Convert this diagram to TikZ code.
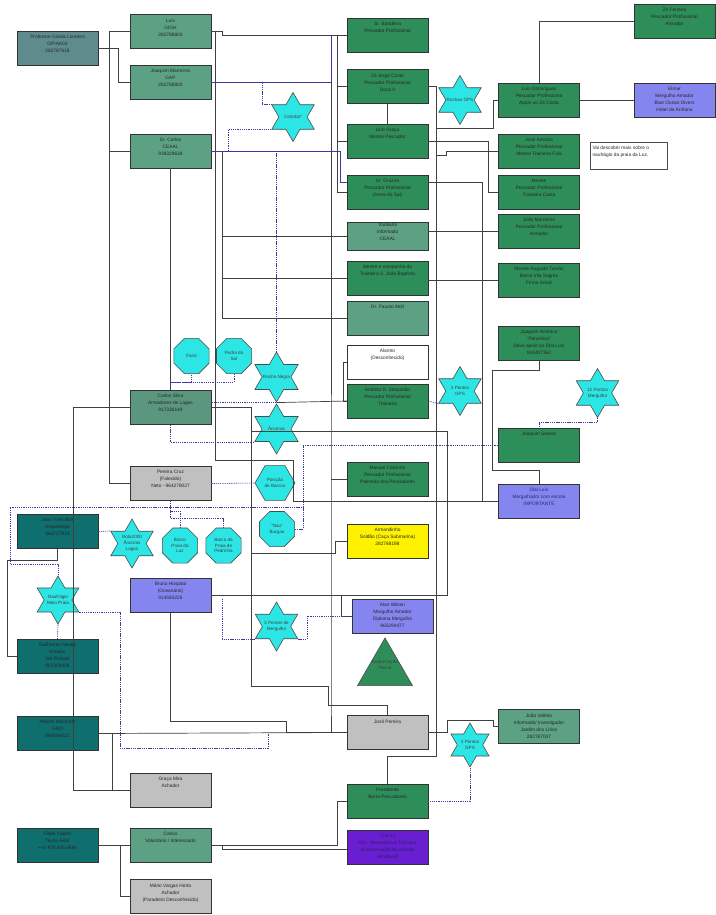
\documentclass[tikz,border=0pt]{standalone}
\usepackage{fontspec}
\setmainfont{Liberation Sans}
\usetikzlibrary{shapes.geometric}

\definecolor{seagr}{HTML}{2E8E5A}
\definecolor{mintgr}{HTML}{5CA184}
\definecolor{silvagr}{HTML}{5A977E}
\definecolor{slategr}{HTML}{5E8C8C}
\definecolor{deepteal}{HTML}{0F6E6E}
\definecolor{lightgr}{HTML}{C0C0C0}
\definecolor{lavblue}{HTML}{8585F0}
\definecolor{violetb}{HTML}{6A1ED2}
\definecolor{aquaf}{HTML}{2CE6E6}
\definecolor{navyl}{HTML}{3A3AA0}

\newcommand{\boxfont}{\fontsize{4.8}{7}\selectfont}
\newcommand{\starfont}{\fontsize{4.6}{5.8}\selectfont}
\newcommand{\tx}[1]{\parbox[c][26pt][t]{80pt}{\centering #1}}

\tikzset{
  box/.style={draw=black!80, line width=0.7pt, minimum width=81pt, minimum height=34pt, inner sep=0pt, font=\boxfont, text=black!85},
  greenbox/.style={box, fill=seagr},
  mintbox/.style={box, fill=mintgr},
  tealbox/.style={box, fill=deepteal},
  greybox/.style={box, fill=lightgr},
  bluebox/.style={box, fill=lavblue},
  starsym/.style={star, star points=6, star point ratio=1.73, draw=black!70, line width=0.6pt, fill=aquaf, minimum size=49pt, inner sep=0pt},
  octo/.style={regular polygon, regular polygon sides=8, draw=black!70, line width=0.6pt, fill=aquaf, minimum size=38pt, inner sep=0pt},
  startxt/.style={font=\starfont, align=center, text=black!75},
  link/.style={draw=black!75, line width=0.7pt},
  blueln/.style={draw=navyl, line width=0.6pt},
  hint/.style={draw=navyl, line width=0.6pt, dash pattern=on 1.3pt off 0.9pt}
}

\begin{document}
\begin{tikzpicture}[x=1pt,y=-1pt]
\fill[white] (0,0) rectangle (715,915);
\useasboundingbox (0,0) rectangle (715,915);

% left column
\node[box, fill=slategr] (prof) at (57.5,48.5) {\tx{Professor Gisela Loureiro\\GPIAA03\\282787618}};
\node[mintbox] (luis) at (170.5,31.5) {\tx{Luís\\GIGH\\282788800}};
\node[mintbox] (joaquimm) at (170.5,82.5) {\tx{Joaquim Marreiros\\GAP\\282788800}};
\node[mintbox] (srcarlos) at (170.5,151) {\tx{Sr. Carlos\\CEAAL\\938329638}};
\node[box, fill=silvagr] (carlossilva) at (170.5,407.5) {\tx{Carlos Silva\\Armadores de Lagos\\917336149}};
\node[greybox] (pereiracruz) at (170.5,483.5) {\tx{Pereira Cruz\\(Falecido)\\Neto - 964278027}};
\node[tealbox] (jeanyves) at (57.5,531.5) {\tx{Jean Yves Blot\\Arqueólogo\\964727914}};
\node[bluebox] (bruno) at (170.5,595.5) {\tx{Bruno Hospital\\(Oceanário)\\914583226}};
\node[tealbox] (guilherme) at (57.5,656.5) {\tx{Guilherme Neves\\Amador\\Ver Postais\\962329408}};
\node[tealbox] (alberto) at (57.5,733.5) {\tx{Alberto Machado\\GRO\\966594022}};
\node[greybox] (gracamira) at (170.5,790.5) {\tx{Graça Mira\\Achador}};
\node[tealbox] (filipe) at (57.5,845.5) {\tx{Filipe Castro\\Texas A\&M\\++1 979 845 6696}};
\node[mintbox] (carlosvol) at (170.5,845.5) {\tx{Carlos\\Voluntário / Interessado}};
\node[greybox] (mario) at (170.5,896.5) {\tx{Mário Vargas Horta\\Achador\\(Paradeiro Desconhecido)}};

% middle column
\node[greenbox] (bandeira) at (387.5,35) {\tx{Sr. Bandeira\\Pescador Profissional}};
\node[greenbox] (zejorge) at (387.5,86.5) {\tx{Zé Jorge Costa\\Pescador Profissional\\Doca II}};
\node[greenbox] (lino) at (387.5,141.5) {\tx{Lino Graça\\Mestre Pescador}};
\node[greenbox] (grazon) at (387.5,192) {\tx{Sr. Grazon\\Pescador Profissional\\(Arma do Sal)}};
\node[mintbox, minimum height=28pt] (toubiano) at (387.5,236.5) {\tx{Toubiano\\Informado\\CEAAL}};
\node[greenbox] (motivo) at (387.5,278) {\tx{Mestre e companha da\\Traineira S. João Baptista}};
\node[mintbox] (fausto) at (387.5,318.5) {\tx{Dr. Fausto Moll}};
\node[box, fill=white] (alantro) at (387.5,362.5) {\tx{Alantro\\(Desconhecido)}};
\node[greenbox] (antonio) at (387.5,401) {\tx{António D. Sebastião\\Pescador Profissional\\Traineira}};
\node[greenbox] (calvinho) at (387.5,479) {\tx{Manuel Calvinho\\Pescador Profissional\\Palmeira dos Pescadores}};
\node[box, fill=yellow] (armandinho) at (387.5,541) {\tx{Armandinho\\Soldão (Caça Submarina)\\282788198}};
\node[bluebox] (alan) at (392.5,616) {\tx{Alan Wilson\\Mergulho Amador\\Diploma Mergulho\\965294477}};
\node[regular polygon, regular polygon sides=3, draw=black!70, line width=0.6pt, fill=seagr, minimum size=63.5pt, inner sep=0pt,
  label={[startxt, yshift=5pt]center:Embarcação\\Pesca}] (embarcacao) at (385,669.7) {};
\node[greybox] (jpereira) at (387.5,732.5) {\tx{José Pereira}};
\node[greenbox] (presidente) at (387.5,801) {\tx{Presidente\\Barra Pescadores}};
\node[box, fill=violetb, text=navyl!60!black] (cultura) at (387.5,847.5) {\tx{Cultura\\Ass. Recreativa e Turística\\(Conservação do sítio de\\Vendaval)}};

% right column
\node[greenbox] (zeferreira) at (674.5,21) {\tx{Zé Ferreira\\Pescador Profissional\\Armador}};
\node[greenbox] (luisdom) at (539,100) {\tx{Luís Domingues\\Pescador Profissional\\Apoio ao Zé Costa}};
\node[bluebox] (elmar) at (674.5,100) {\tx{Elmar\\Mergulho Amador\\Blue Ocean Divers\\Hotel da Arrifana}};
\node[greenbox] (aniceto) at (539,151) {\tx{José Aniceto\\Pescador Profissional\\Mestre Traineira Fula}};
\node[draw=black!70, line width=0.5pt, fill=white, minimum width=77pt, minimum height=27pt, inner sep=0pt, font=\boxfont, text=black!85] (nota) at (628.5,155.5)
  {\parbox[c][18pt][t]{72pt}{\raggedright Vai descobrir mais sobre o\\naufrágio da praia da Luz.}};
\node[greenbox] (mestre) at (539,192.5) {\tx{Mestre\\Pescador Profissional\\Traineira Costa}};
\node[greenbox] (joaomarreiros) at (539,231) {\tx{João Marreiros\\Pescador Profissional\\Armador}};
\node[greenbox] (augusto) at (539,280) {\tx{Mestre Augusto Tomás\\Barco Vila Sagres\\Firma Arisal}};
\node[greenbox] (americo) at (539,343) {\tx{Joaquim Américo\\``Peixinhos''\\Dava apoio ao Dial Luís\\934407362}};
\node[greenbox] (soares) at (539,445.5) {\tx{Joaquim Soares}};
\node[bluebox, text=navyl!70!black] (dialluis) at (539,501) {\tx{Dial Luís\\Mergulhador com escola\\IMPORTANTE}};
\node[mintbox] (valerio) at (539,726.5) {\tx{João Valério\\Informado/ Investigador\\Jardim dos Lírios\\282787047}};

% stars, octagons, hexagon
\node[starsym, label={[startxt]center:Cenoba*}] (cenoba) at (293,117) {};
\node[starsym, label={[startxt]center:Rochas GPS}] (rochasgps) at (460,100) {};
\node[starsym, minimum size=50pt, label={[startxt]center:Rocha Negra}] (rochanegra) at (276.5,377) {};
\node[starsym, minimum size=50pt, label={[startxt]center:Âncoras}] (ancoras) at (276.5,429) {};
\node[starsym, label={[startxt]center:3 Pontos\\GPS}] (tresgps1) at (460,391) {};
\node[starsym, label={[startxt]center:12 Pontos\\Mergulho}] (dozepontos) at (597.5,393) {};
\node[starsym, label={[startxt]center:Rota2000\\Âncoras\\Lagos}] (rota) at (132,543.5) {};
\node[starsym, minimum size=48pt, label={[startxt]center:Naufrágio\\Meia Praia}] (naufragio) at (58,600) {};
\node[starsym, label={[startxt]center:3 Pontos de\\Mergulho}] (trespontosmerg) at (276.5,626.5) {};
\node[starsym, minimum size=44pt, label={[startxt]center:3 Pontos\\GPS}] (tresgps2) at (470,745) {};
\node[octo, label={[startxt]center:Farol}] (farol) at (191.5,356) {};
\node[octo, label={[startxt]center:Pedra do\\Sal}] (pedrasal) at (234,356) {};
\node[octo, label={[startxt]center:Barco\\Praia da\\Luz}] (barcoluz) at (180,545.5) {};
\node[octo, label={[startxt]center:Barco da\\Praia de\\Pedrinha}] (barcopedrinha) at (223.5,545.5) {};
\node[octo, label={[startxt]center:``Nau''\\Burgau}] (nauburgau) at (277,529) {};
\node[regular polygon, regular polygon sides=6, draw=black!70, line width=0.6pt, fill=aquaf, minimum size=40pt, inner sep=0pt,
  label={[startxt]center:Posição\\de Barcos}] (posicao) at (275,483) {};

% solid links
\draw[link] (prof.east) -- (118,48.5) |- (joaquimm.west);
\draw[link] (luis.west) -- (109,31.5) -- (109,483.5) -- (pereiracruz.west);
\draw[link] (srcarlos.west) -- (109,151);
\draw[link] (carlossilva.west) -- (73,407.5) -- (73,790.5) -- (gracamira.west);
\draw[link] (srcarlos.south) -- (carlossilva.north);
\draw[link] (luis.east) -- (222,31.5) |- (bandeira.west);
\draw[link] (luis.east) -- (215,31.5) -- (215,460) -- (293,460) -- (293,501) -- (dialluis.west);
\draw[link] (srcarlos.east) -- (222,151) |- (fausto.west);
\draw[link] (222,236.5) -- (toubiano.west);
\draw[link] (222,278) -- (motivo.west);
\draw[blueln] (joaquimm.east) -- (331,82.5) -- (331,35);
\draw[link] (331,82.5) -- (331,700) |- (jpereira.west);
\draw[link] (bandeira.west) -- (337,35) |- (grazon.west);
\draw[link] (337,86.5) -- (zejorge.west);
\draw[link] (337,141.5) -- (lino.west);
\draw[link] (zejorge.south) -- (lino.north);
\draw[blueln] (srcarlos.east) -- (340,151) |- ([yshift=10pt]grazon.west);
\draw[link] (zejorge.east) -- (436,86.5) -- (436,756) -| (presidente.north);
\draw[link] (436,128) -- (493,128) |- (luisdom.west);
\draw[link] (lino.east) -- (488,141.5) |- (mestre.west);
\draw[link] (436,155) -- (446,155) |- (aniceto.west);
\draw[link] (grazon.east) ++(0,-10) -- (482,182) |- (dialluis.west);
\draw[link] (toubiano.east |- joaomarreiros.west) -- (joaomarreiros.west);
\draw[link] (motivo.east |- augusto.west) -- (augusto.west);
\draw[link] (luisdom.north) |- (zeferreira.west);
\draw[link] (luisdom.east) -- (elmar.west);
\draw[link] (americo.south) -- ++(0,10) -| (492,470) -| (dialluis.north);
\draw[link] (rochanegra.south) -- (antonio.west);
\draw[link] (alantro.west) -- ++(-3,0) |- (antonio.west);
\draw[link] (carlossilva.east) -- (251,407.5) -- (251,686) -| (328,705) -| (jpereira.north);
\draw[link] (251,553) -- (335,553) |- (armandinho.west);
\draw[link] (331,479) -- (calvinho.west);
\draw[link] (bruno.east) -- (447,595.5) -- (447,431) -- (251,431);
\draw[link] (341,595.5) |- (alan.west);
\draw[link] (bruno.south) |- (286,721) |- (jpereira.west);
\draw[link] (alberto.east) -- (jpereira.west);
\draw[link] (alberto.east) -- ++(14,0) |- (gracamira.west);
\draw[link] (jeanyves.south) -- ++(0,11) -- ++(-50.5,0) |- (guilherme.west);
\draw[link] (filipe.east) -- (carlosvol.west);
\draw[link] (120,845.5) |- (mario.west);
\draw[link] (carlosvol.east) -- (337,845.5) |- (presidente.west);
\draw[link] (carlosvol.east) -- ++(11,0) |- ([yshift=-2pt]cultura.west);
\draw[link] (jpereira.east) -- ++(19,0) |- (493,720) |- (valerio.west);

% dotted hints
\draw[hint] (262,82.5) |- (cenoba.outer point 2);
\draw[hint] (228,151) |- (cenoba.outer point 3);
\draw[hint] (276.5,151) -- (rochanegra.north);
\draw[hint] (carlossilva.north) -- ++(0,-8) -| (farol.south);
\draw[hint] (carlossilva.north) ++(0,-8) -| (pedrasal.south);
\draw[hint] (carlossilva.east |- rochanegra.south) -- (rochanegra.south);
\draw[hint] (carlossilva.south) |- (ancoras.outer point 3);
\draw[hint] (pereiracruz.south) -- ++(0,10) -| (barcoluz.north);
\draw[hint] (pereiracruz.south) -- ++(0,17) -| (barcopedrinha.north);
\draw[hint] (pereiracruz.east) -- (posicao.west);
\draw[hint] (jeanyves.east) -- (rota.outer point 2);
\draw[hint] (naufragio.north) -- ++(0,-11) -| (10,507) -| (303,470) |- (soares.west);
\draw[hint] (nauburgau.east) -| (303,507);
\draw[hint] (naufragio.south) -- (guilherme.north);
\draw[hint] (naufragio.outer point 5) -| (120,748) -| (268,733.5);
\draw[hint] (bruno.east) ++(11,3) |- (trespontosmerg.outer point 3);
\draw[hint] (trespontosmerg.outer point 5) -| (307,616) -- (alan.west);
\draw[hint] (antonio.east) -- (tresgps1.outer point 3);
\draw[hint] (dozepontos.south) -- ++(0,4) -| (soares.north);
\draw[hint] (tresgps2.south) |- (presidente.east);
\end{tikzpicture}
\end{document}
